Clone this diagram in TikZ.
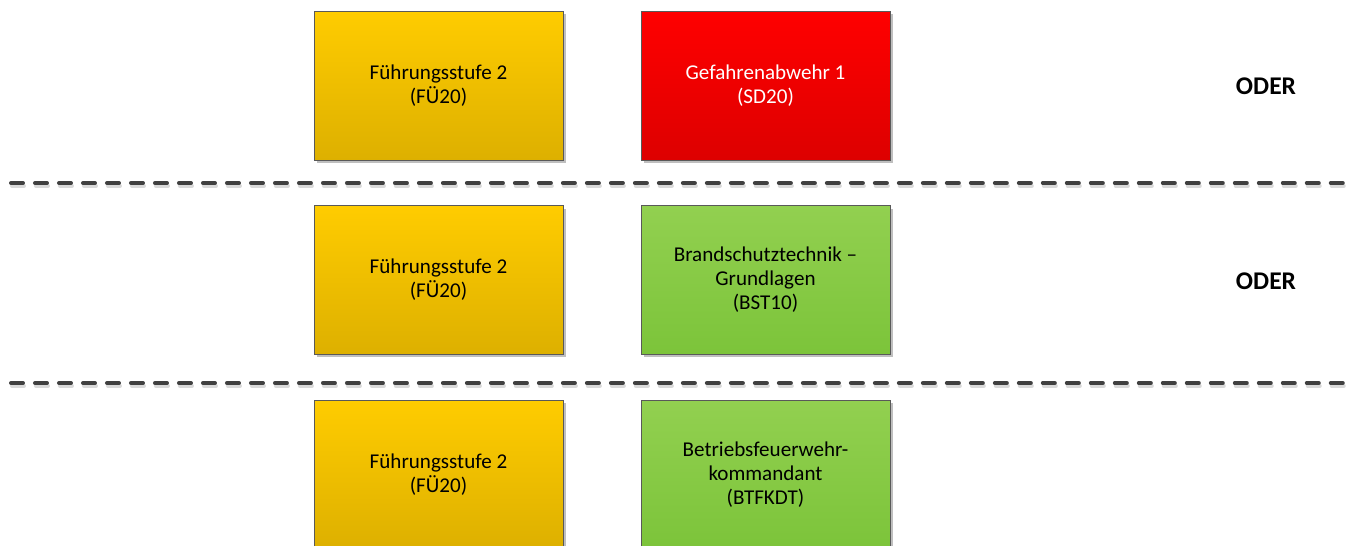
\documentclass[tikz,border=0pt]{standalone}
\usepackage{fontspec}
\setmainfont{Carlito}
\usetikzlibrary{shadows}
\definecolor{yTop}{HTML}{FFCC00}
\definecolor{yBot}{HTML}{DDB000}
\definecolor{rTop}{HTML}{FF0000}
\definecolor{rBot}{HTML}{DD0000}
\definecolor{gTop}{HTML}{92D050}
\definecolor{gBot}{HTML}{7CC43A}
\definecolor{sepgray}{HTML}{404040}
\begin{document}
\begin{tikzpicture}[x=0.02cm, y=-0.02cm,
		font=\fontsize{12}{13.6}\selectfont,
		kurs/.style={draw=black!65, line width=0.5pt, minimum width=4.98cm, minimum height=2.98cm,
			align=center, inner sep=2pt,
			drop shadow={shadow xshift=0.06cm, shadow yshift=-0.06cm, opacity=0.25, fill=black}},
		fue/.style={kurs, top color=yTop, bottom color=yBot},
		sd/.style={kurs, top color=rTop, bottom color=rBot, text=white},
		bst/.style={kurs, top color=gTop, bottom color=gBot},
		oder/.style={font=\fontsize{14.5}{16}\selectfont\bfseries},
		trenn/.style={draw=sepgray, line width=0.08cm, line cap=round, dash pattern=on 0.24cm off 0.24cm},
		trennschatten/.style={trenn, draw=black!15}]
		\useasboundingbox (0,0) rectangle (1351,545);

		% Zeile 1
		\node[fue] (fue1) at (438.5,85.5) {Führungsstufe 2\\(FÜ20)};
		\node[sd] (sd20) at (765.5,85.5) {Gefahrenabwehr 1\\(SD20)};
		\node[oder] (oder1) at (1266,86) {ODER};

		% Zeile 2
		\node[fue] (fue2) at (438.5,280) {Führungsstufe 2\\(FÜ20)};
		\node[bst] (bst10) at (765.5,280) {Brandschutztechnik --\\Grundlagen\\(BST10)};
		\node[oder] (oder2) at (1266,281) {ODER};

		% Zeile 3
		\node[fue] (fue3) at (438.5,474.5) {Führungsstufe 2\\(FÜ20)};
		\node[bst] (btfkdt) at (765.5,474.5) {Betriebsfeuerwehr-\\kommandant\\(BTFKDT)};

		% Trennlinien
		\foreach \y in {183,383} {
			\draw[trennschatten] (12,\y+3) -- (1360,\y+3);
			\draw[trenn] (11,\y) -- (1360,\y);
		}
	\end{tikzpicture}
\end{document}
